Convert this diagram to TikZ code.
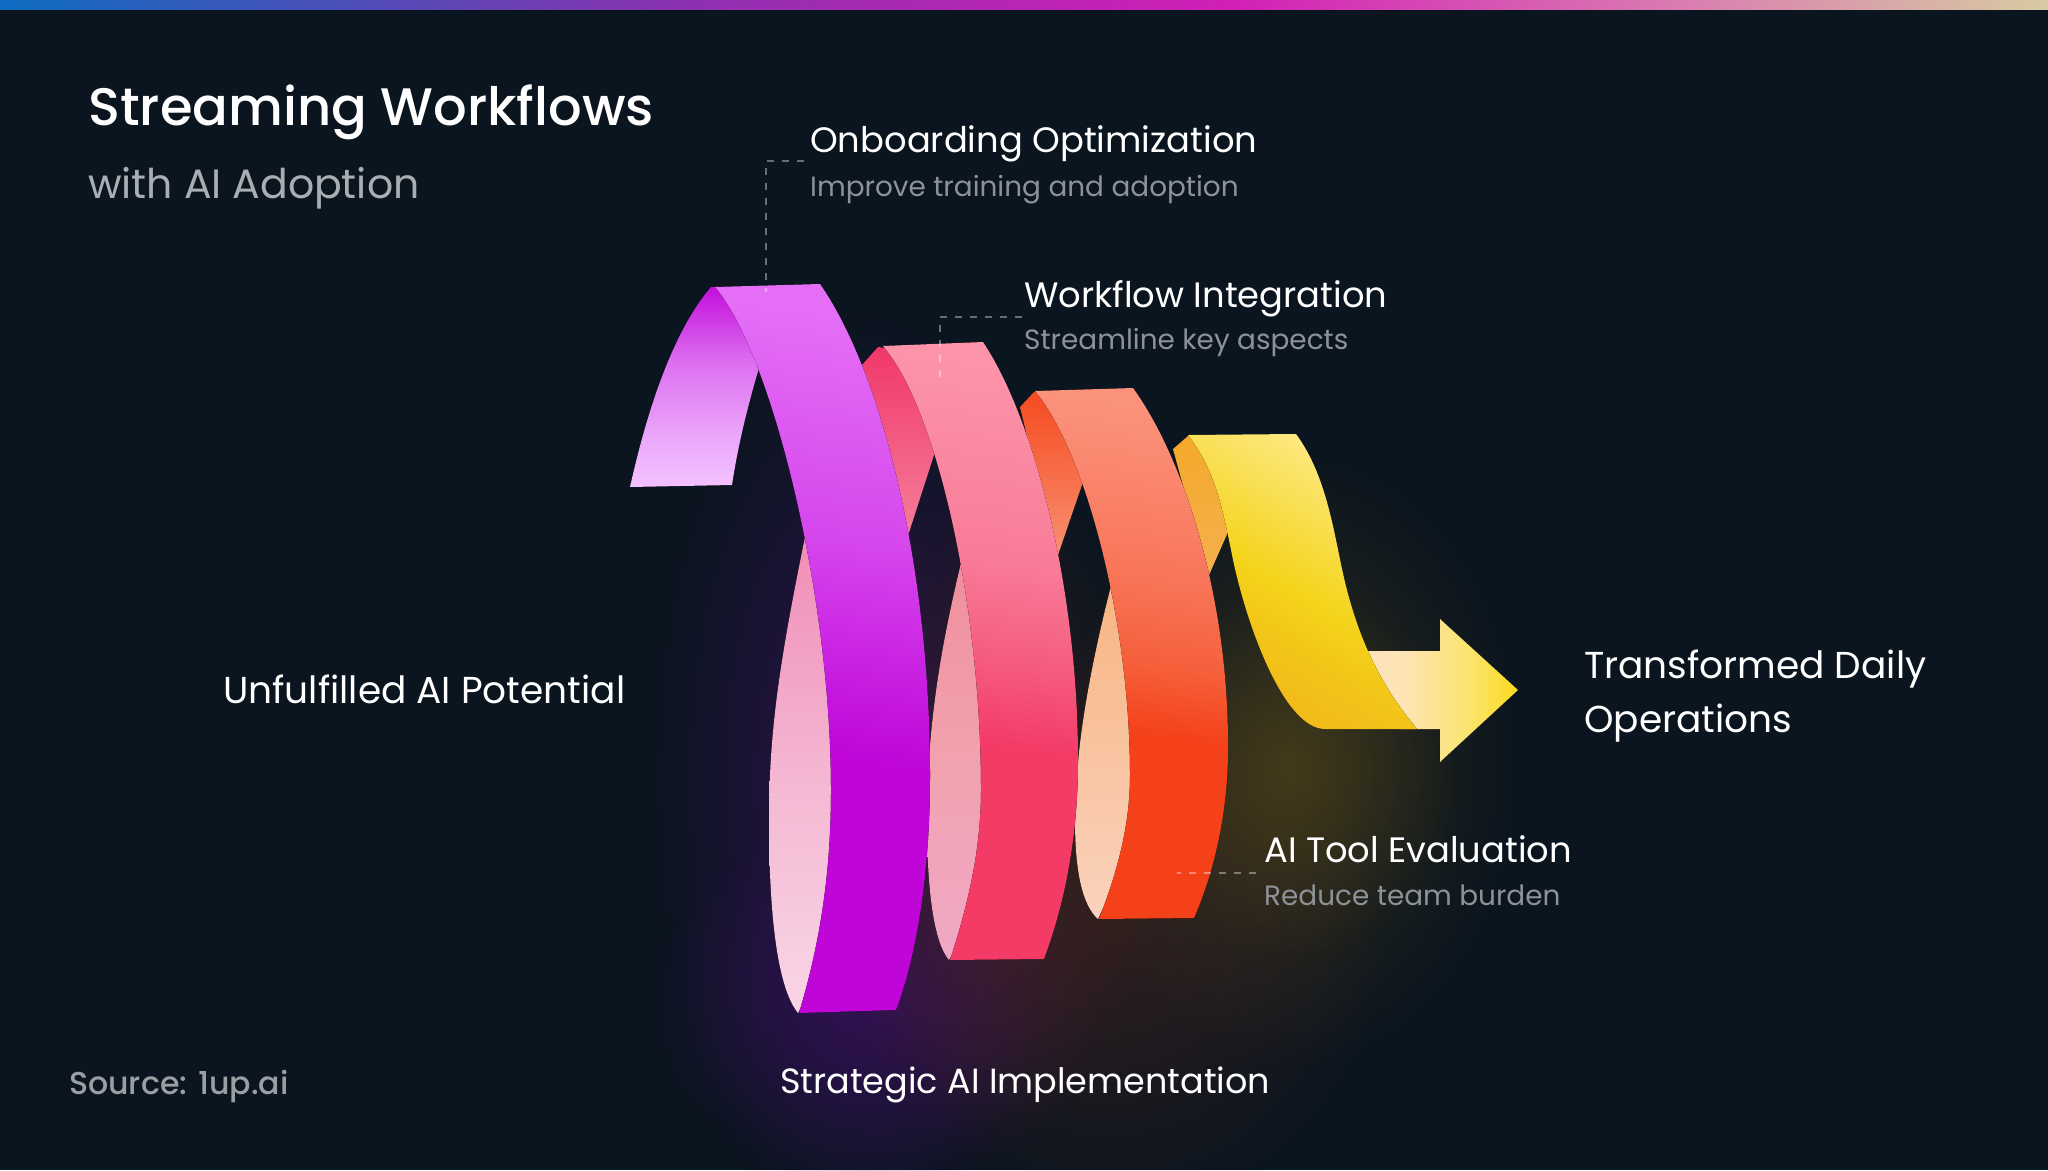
\documentclass[tikz,border=0pt]{standalone}
\usepackage{fontspec}
\usetikzlibrary{fadings,shadings}
\setmainfont{Poppins}
\newfontface\medfont{Poppins Medium}
\definecolor{bgc}{HTML}{0B151F}
\definecolor{lbl}{HTML}{8C9298}
\definecolor{sub}{HTML}{A9AEB3}
\definecolor{srcc}{HTML}{9A9FA4}
\definecolor{bara}{HTML}{0D6DC2}\definecolor{barb}{HTML}{8F30B0}\definecolor{barc}{HTML}{D21FB6}\definecolor{bard}{HTML}{D97CB0}\definecolor{bare}{HTML}{D8CBA2}
\pgfdeclarehorizontalshading{topbar}{100bp}{color(0bp)=(bara);color(25bp)=(bara);color(42bp)=(barb);color(55bp)=(barc);color(66bp)=(bard);color(75bp)=(bare);color(100bp)=(bare)}
% ribbon 1
\definecolor{ma}{HTML}{BF05D8}\definecolor{mb}{HTML}{C920E2}\definecolor{mc}{HTML}{D545EC}\definecolor{md}{HTML}{E46FF6}
\pgfdeclareverticalshading{frontone}{100bp}{color(0bp)=(ma);color(42bp)=(ma);color(49bp)=(mb);color(58bp)=(mc);color(75bp)=(md);color(100bp)=(md)}
\definecolor{ba}{HTML}{F3C2FF}\definecolor{bb}{HTML}{ECA8FB}\definecolor{bc}{HTML}{DC70F0}\definecolor{bd}{HTML}{C40FDC}
\pgfdeclareverticalshading{backone}{100bp}{color(0bp)=(ba);color(25bp)=(ba);color(37bp)=(bb);color(56bp)=(bc);color(75bp)=(bd);color(100bp)=(bd)}
\definecolor{la}{HTML}{F9D6E6}\definecolor{lb}{HTML}{F4B6D2}\definecolor{lc}{HTML}{F08CB6}
\pgfdeclareverticalshading{lowone}{100bp}{color(0bp)=(la);color(25bp)=(la);color(50bp)=(lb);color(75bp)=(lc);color(100bp)=(lc)}
% ribbon 2
\definecolor{pa}{HTML}{F33B66}\definecolor{pb}{HTML}{F55A7E}\definecolor{pc}{HTML}{F87B97}\definecolor{pd}{HTML}{FC93A8}
\pgfdeclareverticalshading{fronttwo}{100bp}{color(0bp)=(pa);color(42bp)=(pa);color(49bp)=(pb);color(58bp)=(pc);color(75bp)=(pd);color(100bp)=(pd)}
\definecolor{pe}{HTML}{F5819C}\definecolor{pf}{HTML}{F0386B}
\pgfdeclareverticalshading{backtwo}{100bp}{color(0bp)=(pe);color(25bp)=(pe);color(75bp)=(pf);color(100bp)=(pf)}
\definecolor{pg}{HTML}{F0A8C6}\definecolor{ph}{HTML}{F2A2AE}\definecolor{pi}{HTML}{EF8F9C}
\pgfdeclareverticalshading{lowtwo}{100bp}{color(0bp)=(pg);color(25bp)=(pg);color(50bp)=(ph);color(75bp)=(pi);color(100bp)=(pi)}
% ribbon 3
\definecolor{oa}{HTML}{F4411A}\definecolor{ob}{HTML}{F55F3A}\definecolor{oc}{HTML}{F87558}\definecolor{od}{HTML}{FB927C}
\pgfdeclareverticalshading{frontthree}{100bp}{color(0bp)=(oa);color(42bp)=(oa);color(49bp)=(ob);color(58bp)=(oc);color(75bp)=(od);color(100bp)=(od)}
\definecolor{oe}{HTML}{F99070}\definecolor{of}{HTML}{F54B20}
\pgfdeclareverticalshading{backthree}{100bp}{color(0bp)=(oe);color(25bp)=(oe);color(75bp)=(of);color(100bp)=(of)}
\definecolor{og}{HTML}{FAD2BC}\definecolor{oh}{HTML}{F7B583}
\pgfdeclareverticalshading{lowthree}{100bp}{color(0bp)=(og);color(25bp)=(og);color(75bp)=(oh);color(100bp)=(oh)}
% ribbon 4
\definecolor{ya}{HTML}{F2B71A}\definecolor{yb}{HTML}{F3C518}\definecolor{yc}{HTML}{F4D41C}\definecolor{yd}{HTML}{F8DE4C}\definecolor{ye}{HTML}{FEE77E}
\pgfdeclareverticalshading{frontfour}{100bp}{color(0bp)=(ya);color(25bp)=(ya);color(38bp)=(yb);color(48bp)=(yc);color(60bp)=(yd);color(72bp)=(ye);color(100bp)=(ye)}
\definecolor{yf}{HTML}{F5B050}\definecolor{yg}{HTML}{F4A928}
\pgfdeclareverticalshading{backfour}{100bp}{color(0bp)=(yf);color(25bp)=(yf);color(75bp)=(yg);color(100bp)=(yg)}
\definecolor{aa}{HTML}{FDE4B8}\definecolor{ab}{HTML}{FBE46A}\definecolor{ac}{HTML}{FBD91E}
\pgfdeclarehorizontalshading{arrowfade}{100bp}{color(0bp)=(aa);color(25bp)=(aa);color(38bp)=(aa);color(60bp)=(ab);color(75bp)=(ac);color(100bp)=(ac)}
\definecolor{gpurple}{HTML}{3A1060}
\definecolor{gred}{HTML}{5A2A20}
\definecolor{gyellow}{HTML}{5A4A18}
\tikzfading[name=glowf, inner color=transparent!30, outer color=transparent!100]
\tikzfading[name=glowg, inner color=transparent!55, outer color=transparent!100]
\tikzset{
  txt/.style={inner sep=0pt, anchor=base west, text=white},
  title/.style={txt, font=\medfont\fontsize{52.8}{52.8}\selectfont},
  subtitle/.style={txt, text=sub, font=\fontsize{41}{41}\selectfont},
  head/.style={txt, font=\fontsize{35.3}{35.3}\selectfont},
  note/.style={txt, text=lbl, font=\fontsize{27.9}{27.9}\selectfont},
  big/.style={txt, font=\fontsize{37.5}{37.5}\selectfont},
  mid/.style={txt, font=\fontsize{35}{35}\selectfont},
  leader/.style={draw=white, draw opacity=.38, line width=2.3pt, dash pattern=on 7pt off 8pt},
  glow/.style={path fading=glowf, fit fading=true},
  softglow/.style={path fading=glowg, fit fading=true},
}
\begin{document}
\begin{tikzpicture}[x=1pt,y=-1pt]
\useasboundingbox (0,0) rectangle (2048,1170);
\fill[bgc] (0,0) rectangle (2048,1170);
\fill[shading=topbar] (0,0) rectangle (2048,9);
% glows
\fill[gpurple,glow] (860,780) ellipse [x radius=210, y radius=470];
\fill[gpurple,glow] (880,1000) ellipse [x radius=230, y radius=190];
\fill[gred,softglow] (1110,930) ellipse [x radius=280, y radius=290];
\fill[gred,softglow] (1000,800) ellipse [x radius=160, y radius=340];
\fill[gyellow,softglow] (1290,760) ellipse [x radius=230, y radius=310];
\fill[gyellow,softglow] (1290,770) ellipse [x radius=170, y radius=190];
% arrow
\fill[shading=arrowfade] (1360,651) -- (1440,651) -- (1440,619) -- (1518,690) -- (1440,762) -- (1440,729) -- (1400,729) -- cycle;
% ribbon 4
\fill[shading=backfour] (1188,436) -- (1173,449) -- (1195,530) -- (1209,575) -- (1228,532) -- (1235,500) -- (1205,440) -- cycle;
\fill[shading=frontfour, shading angle=-30] (1188,435) -- (1296,434)
  .. controls (1330,480) and (1335,545) .. (1347,590)
  .. controls (1360,640) and (1380,685) .. (1417,729)
  -- (1325,729)
  .. controls (1285,729) and (1248,630) .. (1233,560)
  .. controls (1222,505) and (1215,470) .. (1188,435) -- cycle;
% ribbon 3
\fill[shading=backthree] (1034,392) -- (1020,407) -- (1040,490) -- (1058,555) -- (1083,482) -- (1095,460) -- (1050,395) -- cycle;
\fill[shading=lowthree] (1112,582) .. controls (1092,660) and (1075,745) .. (1075,820) .. controls (1075,870) and (1082,905) .. (1098,919) -- (1135,840) -- (1135,700) -- (1118,580) -- cycle;
\fill[shading=frontthree, shading angle=-8] (1035,391) -- (1133,388)
  .. controls (1185,460) and (1229,600) .. (1228,750)
  .. controls (1228,810) and (1215,870) .. (1194,918)
  -- (1099,919)
  .. controls (1118,870) and (1130,825) .. (1130,775)
  .. controls (1130,620) and (1085,450) .. (1035,391) -- cycle;
% ribbon 2
\fill[shading=backtwo] (878,347) -- (862,365) -- (880,450) -- (905,545) -- (935,452) -- (945,420) -- (900,350) -- cycle;
\fill[shading=lowtwo] (961,563) .. controls (940,650) and (927,730) .. (927,820) .. controls (927,880) and (932,940) .. (949,960) -- (985,900) -- (990,700) -- (970,560) -- cycle;
\fill[shading=fronttwo, shading angle=-8] (883,346) -- (983,342)
  .. controls (1035,420) and (1078,590) .. (1078,760)
  .. controls (1078,840) and (1064,905) .. (1044,959)
  -- (950,960)
  .. controls (968,905) and (981,850) .. (981,790)
  .. controls (981,600) and (935,405) .. (883,346) -- cycle;
% ribbon 1
\fill[shading=backone] (711,287) .. controls (670,335) and (645,420) .. (630,487)
  -- (732,485) .. controls (738,445) and (748,405) .. (759,368) -- (775,340) -- (720,287) -- cycle;
\fill[shading=lowone] (805,537) .. controls (780,660) and (769,730) .. (769,820) .. controls (769,900) and (775,985) .. (798,1013) -- (830,950) -- (840,700) -- (815,530) -- cycle;
\fill[shading=frontone, shading angle=-8] (715,287) -- (820,284)
  .. controls (880,370) and (930,560) .. (930,775)
  .. controls (930,880) and (915,960) .. (896,1010)
  -- (799,1013)
  .. controls (818,950) and (831,880) .. (831,790)
  .. controls (831,590) and (770,350) .. (715,287) -- cycle;
% texts
\node[title] (ttl) at (88,125) {Streaming Workflows};
\node[subtitle] (stl) at (88,198) {with AI Adoption};
\node[head] (onb) at (810,152) {Onboarding Optimization};
\node[note] (onbn) at (810,196) {Improve training and adoption};
\node[head] (wfi) at (1024,307) {Workflow Integration};
\node[note] (wfin) at (1024,349) {Streamline key aspects};
\node[head] (atv) at (1264,862) {AI Tool Evaluation};
\node[note] (atvn) at (1264,905) {Reduce team burden};
\node[big] (unf) at (223,703) {Unfulfilled AI Potential};
\node[big] (trd) at (1584,678) {Transformed Daily};
\node[big] (ops) at (1584,732) {Operations};
\node[mid] (sai) at (780,1093) {Strategic AI Implementation};
\node[txt, text=srcc, font=\medfont\fontsize{31.6}{31.6}\selectfont] (src) at (69,1094) {Source: 1up.ai};
% leaders
\coordinate (onbA) at (804,161);
\coordinate (onbB) at (766,292);
\coordinate (wfiA) at (1022,317);
\coordinate (wfiB) at (940,378);
\coordinate (atvA) at (1256,873);
\coordinate (atvB) at (1177,873);
\draw[leader] (onbA) -| (onbB);
\draw[leader] (wfiA) -| (wfiB);
\draw[leader] (atvA) -- (atvB);
\end{tikzpicture}
\end{document}
